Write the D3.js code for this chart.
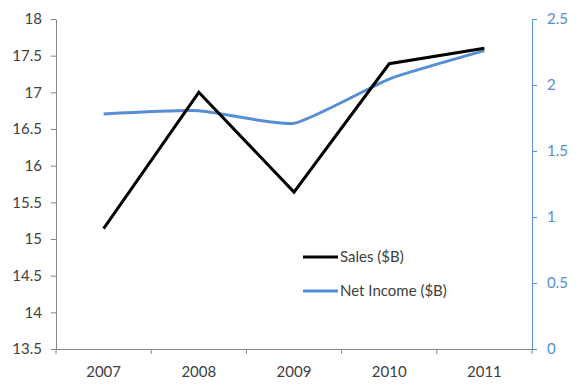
<!DOCTYPE html>
<html>
<head>
<meta charset="utf-8">
<script src="https://cdn.jsdelivr.net/npm/d3@7"></script>
<style>
  body { margin: 0; background: #fff; }
  text { font-family: Lato, "Open Sans", sans-serif; }
</style>
</head>
<body>
<div id="chart"></div>
<script>
// data
var years = ["2007", "2008", "2009", "2010", "2011"];
var sales = [15.14, 17.0, 15.64, 17.39, 17.6];
var netIncome = [1.78, 1.805, 1.71, 2.045, 2.26];
var leftTicks = [13.5, 14, 14.5, 15, 15.5, 16, 16.5, 17, 17.5, 18];
var rightTicks = [0, 0.5, 1, 1.5, 2, 2.5];

var W = 580, H = 392;
var margin = {top: 19, right: 48, bottom: 43, left: 56};
var width = W - margin.left - margin.right,
    height = H - margin.top - margin.bottom;

var blue = "#558ed5";

var svg = d3.select("#chart").append("svg")
    .attr("width", W)
    .attr("height", H)
  .append("g")
    .attr("transform", `translate(${margin.left},${margin.top})`);

var x = d3.scaleBand().domain(years).range([0, width]);
var yL = d3.scaleLinear().domain([13.5, 18]).range([height, 0]);
var yR = d3.scaleLinear().domain([0, 2.5]).range([height, 0]);

// left axis
var gl = svg.append("g")
    .call(d3.axisLeft(yL).tickValues(leftTicks).tickSize(5).tickSizeOuter(0).tickPadding(9)
        .tickFormat(d3.format("")));
gl.select(".domain").attr("stroke", "#868686");
gl.selectAll(".tick line").attr("stroke", "#868686");
gl.selectAll("text").attr("fill", "#404040").style("font-size", "15px");

// right axis
var gr = svg.append("g")
    .attr("transform", `translate(${width},0)`)
    .call(d3.axisRight(yR).tickValues(rightTicks).tickSize(5).tickSizeOuter(0).tickPadding(10)
        .tickFormat(d3.format("")));
gr.select(".domain").attr("stroke", blue);
gr.selectAll(".tick line").attr("stroke", blue);
gr.selectAll("text").attr("fill", blue).style("font-size", "15px");

// bottom axis, ticks between categories
var gb = svg.append("g")
    .attr("transform", `translate(0,${height})`)
    .call(d3.axisBottom(x).tickSize(0).tickPadding(17));
gb.select(".domain").attr("stroke", "#868686");
gb.selectAll("text").attr("fill", "#404040").style("font-size", "15px");
gb.selectAll(".sep").data(years.concat(["end"]))
  .enter().append("line")
    .attr("x1", function (d, i) { return i * x.bandwidth(); })
    .attr("x2", function (d, i) { return i * x.bandwidth(); })
    .attr("y1", 0).attr("y2", 5)
    .attr("stroke", "#868686");

var cx = function (i) { return x(years[i]) + x.bandwidth() / 2; };

// net income (smoothed a little)
svg.append("path")
    .datum(netIncome)
    .attr("fill", "none")
    .attr("stroke", blue)
    .attr("stroke-width", 3)
    .attr("d", d3.line()
        .curve(d3.curveCardinal.tension(0.5))
        .x(function (d, i) { return cx(i); })
        .y(function (d) { return yR(d); }));

// sales
svg.append("path")
    .datum(sales)
    .attr("fill", "none")
    .attr("stroke", "#000")
    .attr("stroke-width", 3)
    .attr("stroke-linejoin", "miter")
    .attr("d", d3.line()
        .x(function (d, i) { return cx(i); })
        .y(function (d) { return yL(d); }));

// legend
var legend = [["Sales ($B)", "#000"], ["Net Income ($B)", blue]];
var lg = svg.selectAll(".lg").data(legend).enter().append("g")
    .attr("transform", function (d, i) { return `translate(${303 - margin.left},${257 - margin.top + i * 34})`; });
lg.append("line").attr("x1", 0).attr("x2", 35).attr("y1", 0).attr("y2", 0)
    .attr("stroke", function (d) { return d[1]; }).attr("stroke-width", 3);
lg.append("text").attr("x", 37).attr("y", 0).attr("dy", "0.35em")
    .attr("fill", "#404040").style("font-size", "15px")
    .text(function (d) { return d[0]; });
</script>
</body>
</html>
